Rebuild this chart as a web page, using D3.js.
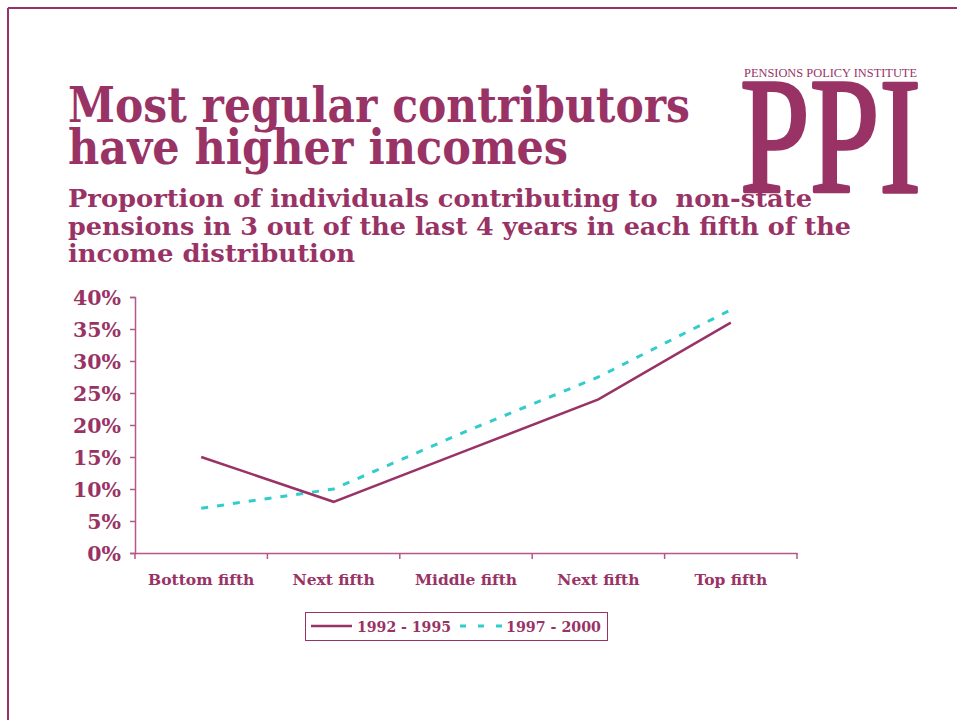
<!DOCTYPE html>
<html>
<head>
<meta charset="utf-8">
<script src="https://cdn.jsdelivr.net/npm/d3@7"></script>
<style>
  html, body { margin: 0; padding: 0; background: #fff; }
  svg { display: block; }
</style>
</head>
<body>
<svg id="chart" width="957" height="724"></svg>
<script>
// Income groups along the x axis
const categories = ["Bottom fifth", "Next fifth", "Middle fifth", "Next fifth", "Top fifth"];
// Share contributing to non-state pensions (%)
const series1992 = [15, 8, 16, 24, 36];
const series1997 = [7, 10, 19, 27.5, 38];
const seriesNames = ["1992 - 1995", "1997 - 2000"];
const yTicks = [0, 5, 10, 15, 20, 25, 30, 35, 40];

const purple = "#993366";
const teal = "#33CCCC";
const axisCol = "#b5578a";
const serif = "'DejaVu Serif', 'Liberation Serif', serif";
const logoSerif = "'Liberation Serif', serif";

const svg = d3.select("#chart");

// frame lines
svg.append("line").attr("x1", 8).attr("y1", 8).attr("x2", 957).attr("y2", 8)
  .attr("stroke", purple).attr("stroke-width", 2);
svg.append("line").attr("x1", 8).attr("y1", 8).attr("x2", 8).attr("y2", 720)
  .attr("stroke", purple).attr("stroke-width", 2);

// title
const title = svg.append("g").attr("fill", purple).attr("font-family", serif).attr("font-weight", "bold");
title.append("text").attr("x", 68).attr("y", 122).attr("font-size", 49)
  .attr("textLength", 622).attr("lengthAdjust", "spacingAndGlyphs").text("Most regular contributors");
title.append("text").attr("x", 68).attr("y", 164).attr("font-size", 49)
  .attr("textLength", 500).attr("lengthAdjust", "spacingAndGlyphs").text("have higher incomes");

const sub = [
  ["Proportion of individuals contributing to  non-state", 744, 207],
  ["pensions in 3 out of the last 4 years in each fifth of the", 783, 235],
  ["income distribution", 287, 262]
];
sub.forEach(([t, w, y]) => {
  title.append("text").attr("x", 68).attr("y", y).attr("font-size", 25)
    .attr("textLength", w).attr("lengthAdjust", "spacingAndGlyphs")
    .style("white-space", "pre").text(t);
});

// logo
const logo = svg.append("g").attr("fill", purple).attr("font-family", logoSerif);
logo.append("text").attr("x", 744).attr("y", 77).attr("font-size", 12.5)
  .attr("textLength", 173).attr("lengthAdjust", "spacingAndGlyphs").text("PENSIONS POLICY INSTITUTE");
logo.append("text").attr("x", 740).attr("y", 192).attr("font-size", 166)
  .attr("stroke", purple).attr("stroke-width", 3.5).attr("stroke-linejoin", "round")
  .attr("textLength", 181).attr("lengthAdjust", "spacingAndGlyphs").text("PPI");

// plot area
const x = d3.scaleBand().domain(d3.range(categories.length)).range([135, 797]);
const y = d3.scaleLinear().domain([0, 40]).range([553, 297]);

const yAxis = svg.append("g").attr("transform", "translate(135,0)")
  .call(d3.axisLeft(y).tickValues(yTicks).tickSize(5).tickFormat(d => d + "%"));
yAxis.select(".domain").attr("stroke", axisCol).attr("stroke-width", 1.5);
yAxis.selectAll(".tick line").attr("stroke", axisCol).attr("stroke-width", 1.5);
yAxis.selectAll("text").attr("fill", purple).attr("font-family", serif)
  .attr("font-weight", "bold").attr("font-size", 20.5).attr("x", -14).attr("dy", "0.36em");

const xAxis = svg.append("g").attr("transform", "translate(0,553)")
  .call(d3.axisBottom(x).tickSize(0).tickSizeOuter(0).tickFormat(i => categories[i]));
xAxis.select(".domain").attr("stroke", axisCol).attr("stroke-width", 1.5);
xAxis.selectAll("text").attr("fill", purple).attr("font-family", serif)
  .attr("font-weight", "bold").attr("font-size", 15.5).attr("y", 32).attr("dy", 0);
// tick marks at category boundaries
const bounds = d3.range(categories.length + 1).map(i => 135 + i * x.step());
xAxis.selectAll(".bound").data(bounds).enter().append("line")
  .attr("x1", d => d).attr("x2", d => d).attr("y1", 0).attr("y2", 6)
  .attr("stroke", axisCol).attr("stroke-width", 1.5);

const line = d3.line().x((d, i) => x(i) + x.bandwidth() / 2).y(d => y(d));

svg.append("path").datum(series1997).attr("d", line)
  .attr("fill", "none").attr("stroke", teal).attr("stroke-width", 3)
  .attr("stroke-dasharray", "7,9");
svg.append("path").datum(series1992).attr("d", line)
  .attr("fill", "none").attr("stroke", purple).attr("stroke-width", 2.5);

// legend
const lg = svg.append("g");
lg.append("rect").attr("x", 305.5).attr("y", 612.5).attr("width", 302).attr("height", 28)
  .attr("fill", "#fff").attr("stroke", purple).attr("stroke-width", 1);
lg.append("line").attr("x1", 311).attr("x2", 352).attr("y1", 626).attr("y2", 626)
  .attr("stroke", purple).attr("stroke-width", 2.5);
lg.append("text").attr("x", 357).attr("y", 632).attr("fill", purple).attr("font-family", serif)
  .attr("font-weight", "bold").attr("font-size", 15).attr("textLength", 94)
  .attr("lengthAdjust", "spacingAndGlyphs").text(seriesNames[0]);
lg.append("line").attr("x1", 460).attr("x2", 503).attr("y1", 626).attr("y2", 626)
  .attr("stroke", teal).attr("stroke-width", 3).attr("stroke-dasharray", "6,12");
lg.append("text").attr("x", 506).attr("y", 632).attr("fill", purple).attr("font-family", serif)
  .attr("font-weight", "bold").attr("font-size", 15).attr("textLength", 95)
  .attr("lengthAdjust", "spacingAndGlyphs").text(seriesNames[1]);
</script>
</body>
</html>
